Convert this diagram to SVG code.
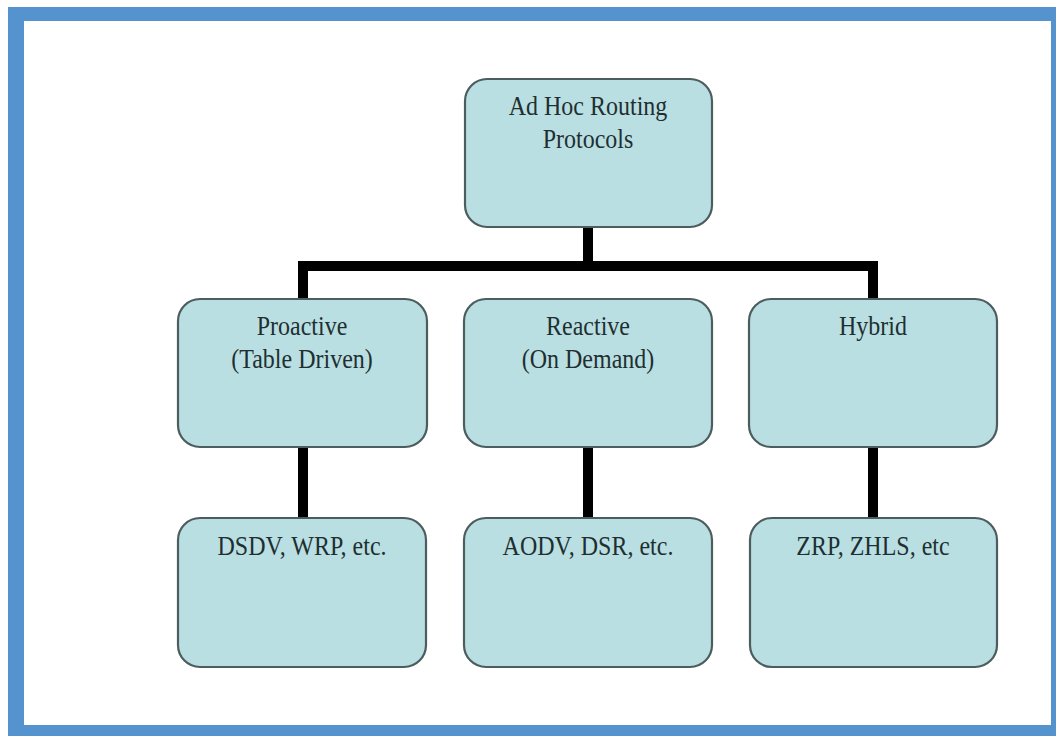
<svg xmlns="http://www.w3.org/2000/svg" width="1056" height="736" viewBox="0 0 1056 736">
<style>
.box{fill:#b9dfe3;stroke:#4d5d5e;stroke-width:2.2}
.lbl{font-family:"Liberation Serif","Times New Roman",serif;font-size:24px;fill:#1f2f30;text-anchor:middle}
.conn{stroke:#000;stroke-width:10;fill:none}
</style>
<rect x="0" y="0" width="1056" height="736" fill="#ffffff"/>
<rect x="8" y="7" width="1048" height="729" fill="#5593cf"/>
<rect x="24" y="21" width="1027" height="704" fill="#ffffff"/>
<g id="connectors">
<path class="conn" d="M588,227 V266 M303,266 H873 M303,261 V299 M873,261 V299"/>
<path class="conn" d="M303,447 V518 M588,447 V518 M873,447 V518"/>
</g>
<g id="root">
<rect class="box" x="465" y="79" width="247" height="148" rx="22"/>
<text class="lbl" transform="translate(588 115) scale(1 1.12)">Ad Hoc Routing</text>
<text class="lbl" transform="translate(588 148) scale(1 1.12)">Protocols</text>
</g>
<g id="proactive">
<rect class="box" x="178" y="299" width="249" height="148" rx="22"/>
<text class="lbl" transform="translate(302 335) scale(1 1.12)">Proactive</text>
<text class="lbl" transform="translate(302 368) scale(1 1.12)">(Table Driven)</text>
</g>
<g id="reactive">
<rect class="box" x="464" y="299" width="248" height="148" rx="22"/>
<text class="lbl" transform="translate(588 335) scale(1 1.12)">Reactive</text>
<text class="lbl" transform="translate(588 368) scale(1 1.12)">(On Demand)</text>
</g>
<g id="hybrid">
<rect class="box" x="749" y="299" width="248" height="148" rx="22"/>
<text class="lbl" transform="translate(873 335) scale(1 1.12)">Hybrid</text>
</g>
<g id="dsdv">
<rect class="box" x="178" y="518" width="248" height="149" rx="22"/>
<text class="lbl" transform="translate(302 555) scale(1 1.12)">DSDV, WRP, etc.</text>
</g>
<g id="aodv">
<rect class="box" x="464" y="518" width="248" height="149" rx="22"/>
<text class="lbl" transform="translate(588 555) scale(1 1.12)">AODV, DSR, etc.</text>
</g>
<g id="zrp">
<rect class="box" x="750" y="518" width="247" height="149" rx="22"/>
<text class="lbl" transform="translate(873 555) scale(1 1.12)">ZRP, ZHLS, etc</text>
</g>
</svg>
